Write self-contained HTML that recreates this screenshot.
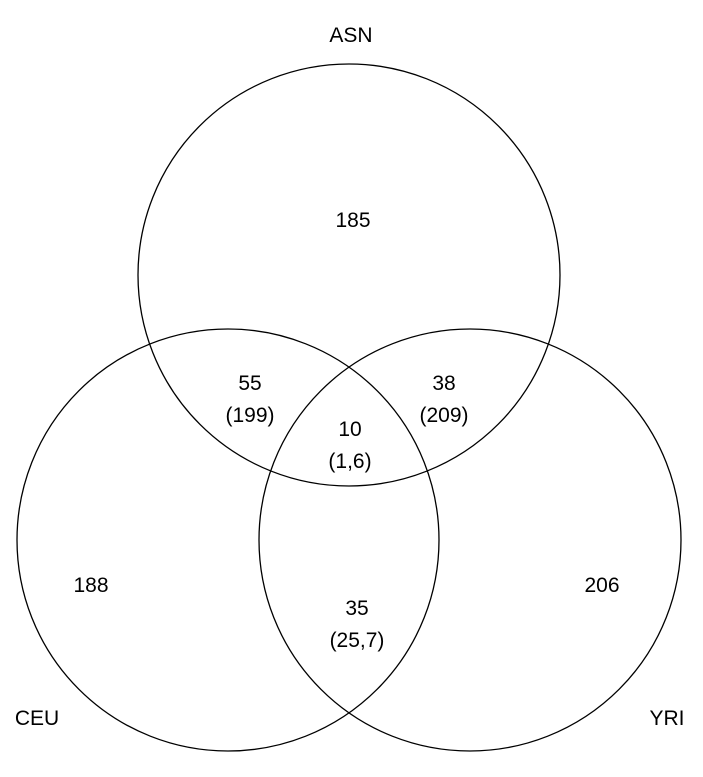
<!DOCTYPE html>
<html><head><meta charset="utf-8"><style>
html,body{margin:0;padding:0;background:#fff;width:703px;height:777px;overflow:hidden}
text{font-family:"Liberation Sans Narrow","Liberation Sans",sans-serif;font-size:21px;fill:#000;font-stretch:condensed}
</style></head><body>
<svg width="703" height="777" viewBox="0 0 703 777" xmlns="http://www.w3.org/2000/svg">
<g fill="none" stroke="#000" stroke-width="1.3">
<circle cx="349" cy="275" r="211"/>
<circle cx="228" cy="540" r="211"/>
<circle cx="470" cy="540" r="211"/>
</g>
<g text-anchor="middle">
<text x="351" y="42">ASN</text>
<text x="37" y="725">CEU</text>
<text x="667" y="725">YRI</text>
<text x="353" y="227">185</text>
<text x="250" y="390">55</text>
<text x="250" y="422">(199)</text>
<text x="444" y="390">38</text>
<text x="444" y="422">(209)</text>
<text x="350" y="436">10</text>
<text x="350" y="468">(1,6)</text>
<text x="91" y="592">188</text>
<text x="602" y="592">206</text>
<text x="357" y="615">35</text>
<text x="357" y="647">(25,7)</text>
</g>
</svg>
</body></html>
